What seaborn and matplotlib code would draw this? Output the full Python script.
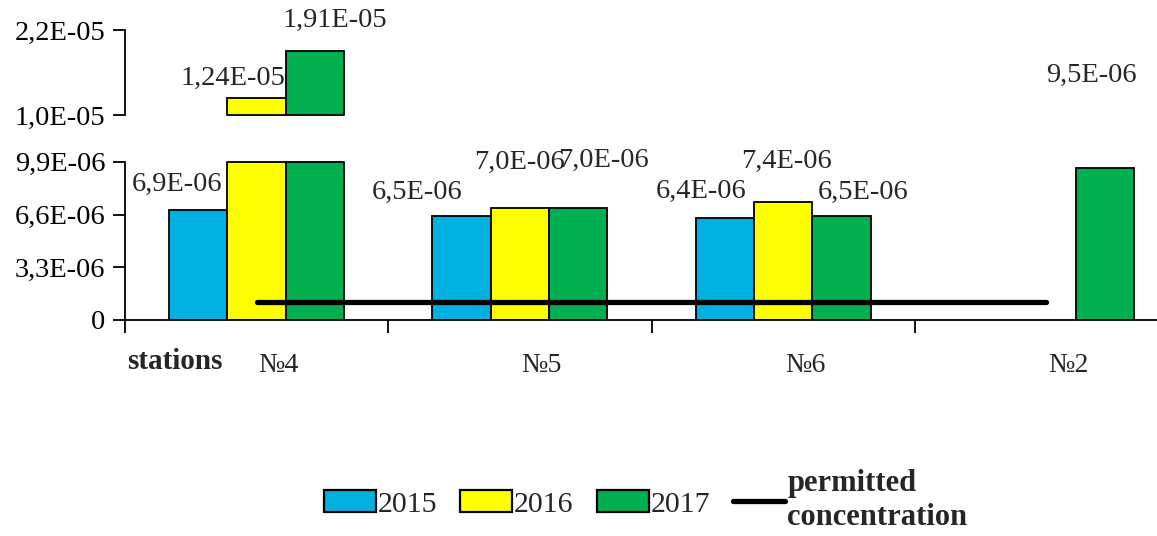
import numpy as np
import pandas as pd
import matplotlib
matplotlib.use("Agg")
import matplotlib.pyplot as plt
import matplotlib.transforms as mtransforms
import seaborn as sns
from matplotlib.patches import Patch
from matplotlib.lines import Line2D

# ─────────────────────────────────────────────
# DATA
# ─────────────────────────────────────────────
stations = ["№4", "№5", "№6", "№2"]
years = ["2015", "2016", "2017"]
conc_2015 = [6.9e-6, 6.5e-6, 6.4e-6, np.nan]
conc_2016 = [1.24e-5, 7.0e-6, 7.4e-6, np.nan]
conc_2017 = [1.91e-5, 7.0e-6, 6.5e-6, 9.5e-6]
permitted = 1.1e-6
permitted_from, permitted_to = "№4", "№2"

low_ticks = [0, 3.3e-6, 6.6e-6, 9.9e-6]
high_ticks = [1.0e-5, 2.2e-5]

colors = {"2015": "#00b0e0", "2016": "#ffff00", "2017": "#00b050"}

# label offsets in pixels (dx, dy) relative to top centre of each bar
label_offsets = {
    ("№4", "2015"): (-21, 25), ("№4", "2016"): (-24, 20), ("№4", "2017"): (20, 30),
    ("№5", "2015"): (-44, 24), ("№5", "2016"): (0, 46), ("№5", "2017"): (25, 48),
    ("№6", "2015"): (-24, 26), ("№6", "2016"): (3, 40), ("№6", "2017"): (22, 24),
    ("№2", "2017"): (-13, 93),
}

df = pd.DataFrame({
    "station": stations * 3,
    "year": [y for y in years for _ in stations],
    "value": conc_2015 + conc_2016 + conc_2017,
}).dropna()


def sci_comma(v):
    if v == 0:
        return "0"
    exp = int(np.floor(np.log10(v)))
    m = f"{v / 10**exp:.2f}".rstrip("0")
    if m.endswith("."):
        m += "0"
    return f"{m.replace('.', ',')}E-{abs(exp):02d}"


# ─────────────────────────────────────────────
# PLOT
# ─────────────────────────────────────────────
sns.set_theme(style="ticks")
plt.rcParams["font.family"] = ["Liberation Serif", "DejaVu Serif"]

fig = plt.figure(figsize=(11.57, 5.36), dpi=100)
ax_lo = fig.add_axes([0.108, 0.403, 0.892, 0.295])
ax_hi = fig.add_axes([0.108, 0.785, 0.892, 0.159])

bar_width = 0.665
for ax in (ax_lo, ax_hi):
    sns.barplot(data=df, x="station", y="value", hue="year", order=stations,
                hue_order=years, palette=colors, width=bar_width, saturation=1,
                edgecolor="black", linewidth=1.3, errorbar=None, legend=False, ax=ax)
    ax.set_xlim(-0.5, 3.42)
    ax.set_xlabel("")
    ax.set_ylabel("")
    ax.tick_params(axis="y", length=9, width=1.3, pad=5, labelsize=20.5, colors="black")
    ax.spines["left"].set_linewidth(1.3)
    ax.spines["left"].set_color("black")
    sns.despine(ax=ax)

ax_lo.set_ylim(0, low_ticks[-1])
ax_lo.set_yticks(low_ticks)
ax_lo.set_yticklabels([sci_comma(t) for t in low_ticks])
ax_hi.set_ylim(high_ticks[0], high_ticks[-1])
ax_hi.set_yticks(high_ticks)
ax_hi.set_yticklabels([sci_comma(t) for t in high_ticks])

ax_hi.spines["bottom"].set_visible(False)
ax_hi.set_xticks([])
ax_hi.patch.set_alpha(0)
ax_lo.patch.set_alpha(0)

# x axis: ticks at category borders, labels in centres
ax_lo.spines["bottom"].set_linewidth(1.3)
ax_lo.spines["bottom"].set_color("black")
ax_lo.set_xticks(np.arange(len(stations)) - 0.5)
ax_lo.set_xticklabels([""] * len(stations))
ax_lo.set_xticks(np.arange(len(stations)), minor=True)
ax_lo.set_xticklabels(stations, minor=True)
ax_lo.tick_params(axis="x", which="major", length=9, width=1.3, colors="black")
ax_lo.tick_params(axis="x", which="minor", length=0, pad=24, labelsize=20)
shift = mtransforms.ScaledTranslation(0.22, 0, fig.dpi_scale_trans)
for lab in ax_lo.get_xticklabels(minor=True):
    lab.set_transform(lab.get_transform() + shift)
ax_lo.annotate("stations", xy=(0, 0), xycoords="axes fraction", xytext=(2, -42),
               textcoords="offset pixels", ha="left", va="center",
               fontsize=21, fontweight="bold")

# bar edges cut by the axis break
lo_top = ax_lo.get_ylim()[1]
for p in ax_lo.patches:
    if p.get_height() > lo_top:
        ax_lo.plot([p.get_x(), p.get_x() + p.get_width()], [lo_top, lo_top],
                   color="black", lw=1.3, clip_on=False, zorder=4)
hi_bot = ax_hi.get_ylim()[0]
for p in ax_hi.patches:
    if p.get_height() > hi_bot:
        ax_hi.plot([p.get_x(), p.get_x() + p.get_width()], [hi_bot, hi_bot],
                   color="black", lw=1.3, clip_on=False, zorder=4)

# permitted concentration line
ax_lo.plot([stations.index(permitted_from), stations.index(permitted_to)],
           [permitted, permitted], color="black", lw=3.8, zorder=5,
           solid_capstyle="round")

# value labels
step = bar_width / len(years)
for (st, yr), (dx, dy) in label_offsets.items():
    val = df[(df.station == st) & (df.year == yr)]["value"].iloc[0]
    x = stations.index(st) + (years.index(yr) - 1) * step
    ax = ax_hi if val > lo_top else ax_lo
    ax.annotate(sci_comma(val), xy=(x, val), xytext=(dx, dy), textcoords="offset pixels",
                ha="center", va="center", fontsize=20.5, annotation_clip=False)

# legend
handles = [Patch(facecolor=colors[y], edgecolor="black", linewidth=1.6) for y in years]
handles.append(Line2D([0], [0], color="black", lw=3.8))
leg = fig.legend(handles, years + ["permitted\nconcentration"], loc="center",
                 bbox_to_anchor=(0.558, 0.066), ncol=4, frameon=False, fontsize=21.5,
                 handlelength=1.74, handleheight=0.77, handletextpad=0.07,
                 columnspacing=0.77)
leg.get_texts()[3].set_fontweight("bold")
leg.get_texts()[3].set_fontsize(22)
leg.get_texts()[3].set_linespacing(1.2)

fig.savefig("out.png", dpi=100)
